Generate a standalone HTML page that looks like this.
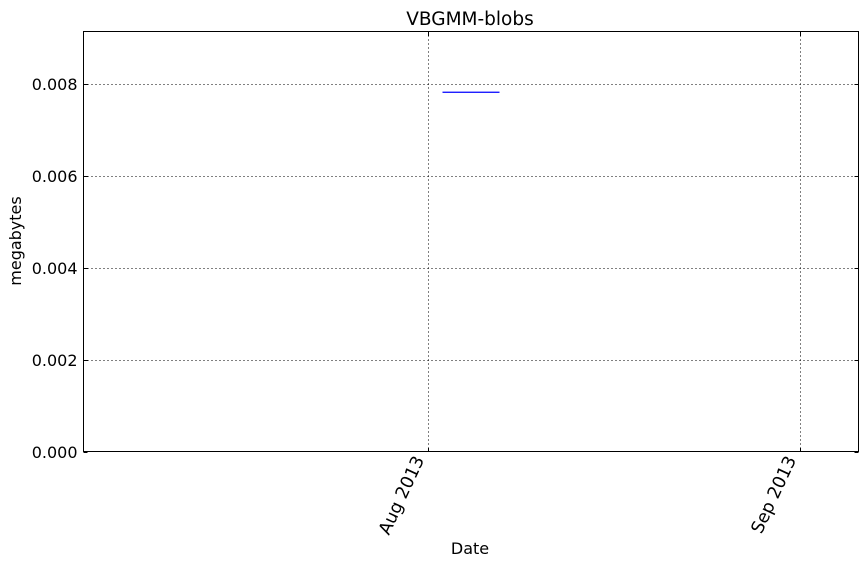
<!DOCTYPE html>
<html><head><meta charset="utf-8"><style>
body{margin:0;background:#fff;}
svg text{font-family:"DejaVu Sans","Liberation Sans",sans-serif;fill:#000;}
</style></head><body>
<svg id="chart" width="868" height="564" xmlns="http://www.w3.org/2000/svg">
<rect x="0" y="0" width="868" height="564" fill="#fff"/>
<g id="grid"></g>
<g id="series"></g>
<rect x="83.5" y="31.5" width="775" height="420" fill="none" stroke="#000" stroke-width="1"/>
<g id="axes"></g>
<text x="470" y="25" font-size="18.5" text-anchor="middle">VBGMM-blobs</text>
<text x="470" y="554" font-size="16" text-anchor="middle">Date</text>
<text transform="translate(21,241) rotate(-90)" font-size="16" text-anchor="middle">megabytes</text>
</svg>
<script>
// data: days relative to 1 Aug 2013
const seriesDays = [1.21, 5.96];
const seriesValues = [0.00783, 0.00783];
const yTicks = [0, 0.002, 0.004, 0.006, 0.008];
const yTickLabels = ["0.000","0.002","0.004","0.006","0.008"];
const xTicks = [0, 31];
const xTickLabels = ["Aug 2013","Sep 2013"];
const xMin = -28.71, xMax = 35.88, yMin = 0, yMax = 0.009155;
const L=83.5, R=858.5, T=31.5, B=451.5;
const sx = d => L + (d - xMin) / (xMax - xMin) * (R - L);
const sy = v => B - (v - yMin) / (yMax - yMin) * (B - T);
const NS="http://www.w3.org/2000/svg";
const grid=document.getElementById('grid'), axes=document.getElementById('axes'), ser=document.getElementById('series');
function mk(tag, attrs, parent){const e=document.createElementNS(NS,tag);for(const k in attrs)e.setAttribute(k,attrs[k]);parent.appendChild(e);return e;}
yTicks.forEach((v,i)=>{
  const y=Math.round(sy(v))+0.5;
  if(i>0){const g=mk('line',{x1:L,x2:R,y1:y,y2:y,stroke:'#000','stroke-width':1,'stroke-dasharray':'1,3'},grid);
  
  }
  mk('line',{x1:L,x2:L+4,y1:y,y2:y,stroke:'#000'},axes);
  mk('line',{x1:R-4,x2:R,y1:y,y2:y,stroke:'#000'},axes);
  const t=mk('text',{x:L-6,y:y+5.5,'font-size':16,'text-anchor':'end'},axes);
  t.textContent=yTickLabels[i];
  
  
});
xTicks.forEach((d,i)=>{
  const x=Math.round(sx(d))+0.5;
  const g=mk('line',{x1:x,x2:x,y1:T,y2:B,stroke:'#000','stroke-width':1,'stroke-dasharray':'1,3'},grid);
  
  
  mk('line',{x1:x,x2:x,y1:B-4,y2:B,stroke:'#000'},axes);
  mk('line',{x1:x,x2:x,y1:T,y2:T+4,stroke:'#000'},axes);
  const t=mk('text',{transform:`translate(${x-4},${B+8}) rotate(-65)`,'font-size':17.5,'text-anchor':'end'},axes);
  t.textContent=xTickLabels[i];
  
  
});
const pts=seriesDays.map((d,i)=>sx(d)+','+sy(seriesValues[i])).join(' ');
const pl=mk('polyline',{points:pts,fill:'none',stroke:'#0000ff','stroke-width':1.3},ser);


</script>
</body></html>
